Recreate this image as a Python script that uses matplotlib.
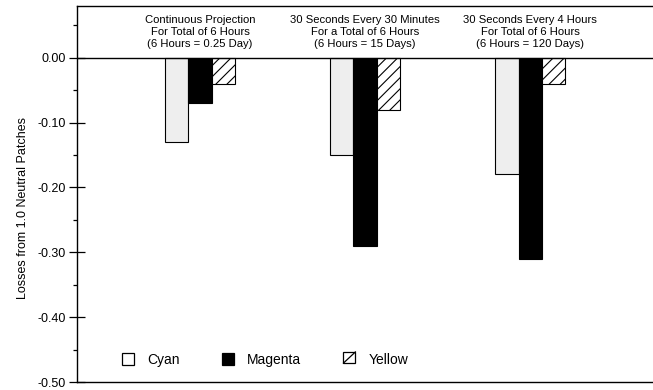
import matplotlib
matplotlib.use("Agg")
import matplotlib.pyplot as plt
from matplotlib.patches import Patch, Rectangle
from matplotlib.lines import Line2D
from matplotlib.legend_handler import HandlerBase
import numpy as np

plt.rcParams["font.family"] = ["Liberation Sans", "DejaVu Sans"]
plt.rcParams["hatch.linewidth"] = 0.8

# data
conditions = [
    "Continuous Projection\nFor Total of 6 Hours\n(6 Hours = 0.25 Day)",
    "30 Seconds Every 30 Minutes\nFor a Total of 6 Hours\n(6 Hours = 15 Days)",
    "30 Seconds Every 4 Hours\nFor Total of 6 Hours\n(6 Hours = 120 Days)",
]
series = ["Cyan", "Magenta", "Yellow"]
cyan = [-0.13, -0.15, -0.18]
magenta = [-0.07, -0.29, -0.31]
yellow = [-0.04, -0.08, -0.04]
yticks = [0.0, -0.1, -0.2, -0.3, -0.4, -0.5]

STYLE = {
    "Cyan": dict(facecolor="#eeeeee", hatch=None),
    "Magenta": dict(facecolor="black", hatch=None),
    "Yellow": dict(facecolor="white", hatch="///"),
}


class SlashBox(HandlerBase):
    """Open square with one diagonal, like the old print legend."""
    def create_artists(self, legend, orig, xd, yd, w, h, fs, trans):
        box = Rectangle((xd, yd), w, h, facecolor="white", edgecolor="black",
                        lw=0.9, transform=trans)
        diag = Line2D([xd, xd + w], [yd, yd + h], color="black", lw=0.9,
                      transform=trans)
        return [box, diag]


fig = plt.figure(figsize=(6.53, 3.9), dpi=100)
ax = fig.add_axes([0.118, 0.0205, 0.882, 0.9645])

x = np.arange(len(conditions))
w = 0.14
for i, (name, vals) in enumerate(zip(series, [cyan, magenta, yellow])):
    st = STYLE[name]
    ax.bar(x + (i - 1) * w, vals, w, facecolor=st["facecolor"], hatch=st["hatch"],
           edgecolor="black", lw=0.8, zorder=2)

ax.axhline(0, color="black", lw=1, zorder=3)

for xi, label in zip(x, conditions):
    ax.text(xi, 0.040, label, ha="center", va="center", fontsize=8.1,
            linespacing=1.25)

ax.set_xlim(-0.745, 2.745)
ax.set_ylim(-0.5, 0.08)
ax.set_yticks(yticks)
ax.set_yticklabels([f"{v:.2f}" for v in yticks])
ax.set_yticks(np.arange(-0.45, 0.08, 0.1), minor=True)
ax.tick_params(axis="y", which="major", direction="inout", length=12, width=0.9,
               labelsize=9, pad=2)
ax.tick_params(axis="y", which="minor", direction="out", length=3, width=0.9)
ax.set_xticks([])
ax.set_ylabel("Losses from 1.0 Neutral Patches", fontsize=9)
ax.yaxis.set_label_coords(-0.084, 0.463)

for side in ["left", "top", "bottom"]:
    ax.spines[side].set_linewidth(1.0)
ax.spines["right"].set_visible(False)

handles = [
    Patch(facecolor="white", edgecolor="black", lw=0.9, label="Cyan"),
    Patch(facecolor="black", edgecolor="black", lw=0.9, label="Magenta"),
    Patch(facecolor="white", edgecolor="black", lw=0.9, label="Yellow"),
]
ax.legend(handles=handles, loc="lower left", bbox_to_anchor=(0.057, 0.007), ncol=3,
          frameon=False, fontsize=10, handlelength=0.86, handleheight=0.86,
          handletextpad=0.93, columnspacing=3.05,
          handler_map={handles[2]: SlashBox()})

fig.savefig("out.png", dpi=100)
